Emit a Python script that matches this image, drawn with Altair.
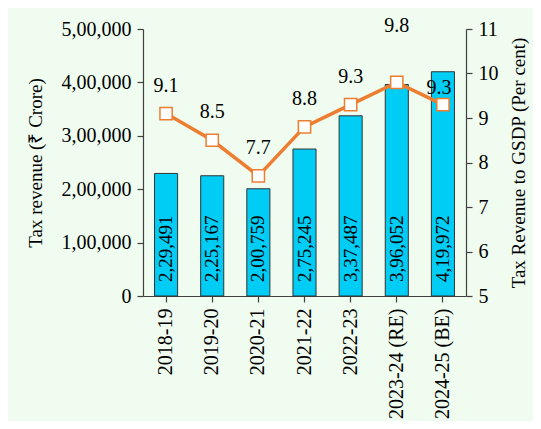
import altair as alt
import pandas as pd

years = ["2018-19", "2019-20", "2020-21", "2021-22", "2022-23", "2023-24 (RE)", "2024-25 (BE)"]
revenue = [229491, 225167, 200759, 275245, 337487, 396052, 419972]
ratio = [9.1, 8.5, 7.7, 8.8, 9.3, 9.8, 9.3]


def indian(n):
    s = str(n)
    if len(s) <= 3:
        return s
    last3 = s[-3:]
    rest = s[:-3]
    parts = []
    while len(rest) > 2:
        parts.insert(0, rest[-2:])
        rest = rest[:-2]
    if rest:
        parts.insert(0, rest)
    return ",".join(parts) + "," + last3


df = pd.DataFrame({
    "year": years,
    "revenue": revenue,
    "ratio": ratio,
    "rev_label": [indian(v) for v in revenue],
    "ratio_label": [f"{r:.1f}" for r in ratio],
})

FONT = "Liberation Serif"
CYAN = "#00cdf6"
ORANGE = "#ed7d31"

x_enc = alt.X(
    "year:N",
    sort=years,
    scale=alt.Scale(paddingInner=0.5, paddingOuter=0.25),
    axis=alt.Axis(title=None, labelAngle=-90, labelFontSize=20, labelPadding=6,
                  tickSize=6, labelBaseline="middle", labelAlign="right"),
)

base = alt.Chart(df)

bars = base.mark_bar(color=CYAN, stroke="#333333", strokeWidth=1).encode(
    x=x_enc,
    y=alt.Y("revenue:Q",
            scale=alt.Scale(domain=[0, 500000]),
            axis=alt.Axis(title="Tax revenue (₹ Crore)", values=[0, 100000, 200000, 300000, 400000, 500000],
                          labelExpr="datum.value == 0 ? '0' : format(datum.value/100000, 'd') + ',00,000'",
                          labelFontSize=20, titleFontSize=19, titleFontWeight="normal",
                          tickSize=6, labelPadding=6, titlePadding=16, grid=False)),
)

bar_text = base.mark_text(angle=270, align="left", baseline="middle", dx=14,
                          fontSize=19, font=FONT, color="black").encode(
    x=alt.X("year:N", sort=years),
    y=alt.Y(datum=0),
    text="rev_label:N",
)

left = alt.layer(bars, bar_text)

y_right = alt.Y("ratio:Q",
                scale=alt.Scale(domain=[5, 11]),
                axis=alt.Axis(orient="right", title="Tax Revenue to GSDP (Per cent)",
                              values=[5, 6, 7, 8, 9, 10, 11], labelFontSize=20,
                              titleFontSize=19, titleFontWeight="normal", titleAngle=270,
                              tickSize=6, labelPadding=6, titlePadding=30, grid=False))

line = base.mark_line(color=ORANGE, strokeWidth=3.5).encode(
    x=alt.X("year:N", sort=years), y=y_right)

pts = base.mark_point(shape="square", filled=True, fill="white", stroke=ORANGE,
                      strokeWidth=1.5, size=150, opacity=1).encode(
    x=alt.X("year:N", sort=years), y=y_right)

lbl_main = base.transform_filter(
    alt.FieldOneOfPredicate(field="year", oneOf=years[:5])
).mark_text(dy=-28, fontSize=20, font=FONT, color="black").encode(
    x=alt.X("year:N", sort=years), y=y_right, text="ratio_label:N")

lbl_high = base.transform_filter(
    alt.FieldEqualPredicate(field="year", equal=years[5])
).mark_text(dy=-56, fontSize=20, font=FONT, color="black").encode(
    x=alt.X("year:N", sort=years), y=y_right, text="ratio_label:N")

lbl_last = base.transform_filter(
    alt.FieldEqualPredicate(field="year", equal=years[6])
).mark_text(dy=-17, dx=-4, fontSize=20, font=FONT, color="black").encode(
    x=alt.X("year:N", sort=years), y=y_right, text="ratio_label:N")

right = alt.layer(line, pts, lbl_main, lbl_high, lbl_last)

chart = alt.layer(left, right).resolve_scale(y="independent").properties(
    width=323, height=267,
    autosize=alt.AutoSizeParams(type="none"),
    padding={"left": 135, "top": 21, "right": 67, "bottom": 125},
    background="#effcef",
).configure_view(stroke=None).configure_axis(
    labelFont=FONT, titleFont=FONT, labelColor="black", titleColor="black",
    domainColor="#404040", tickColor="#404040", domainWidth=1.2, tickWidth=1.2,
)

chart.save("out.html", embed_options={"renderer": "svg", "actions": False})
